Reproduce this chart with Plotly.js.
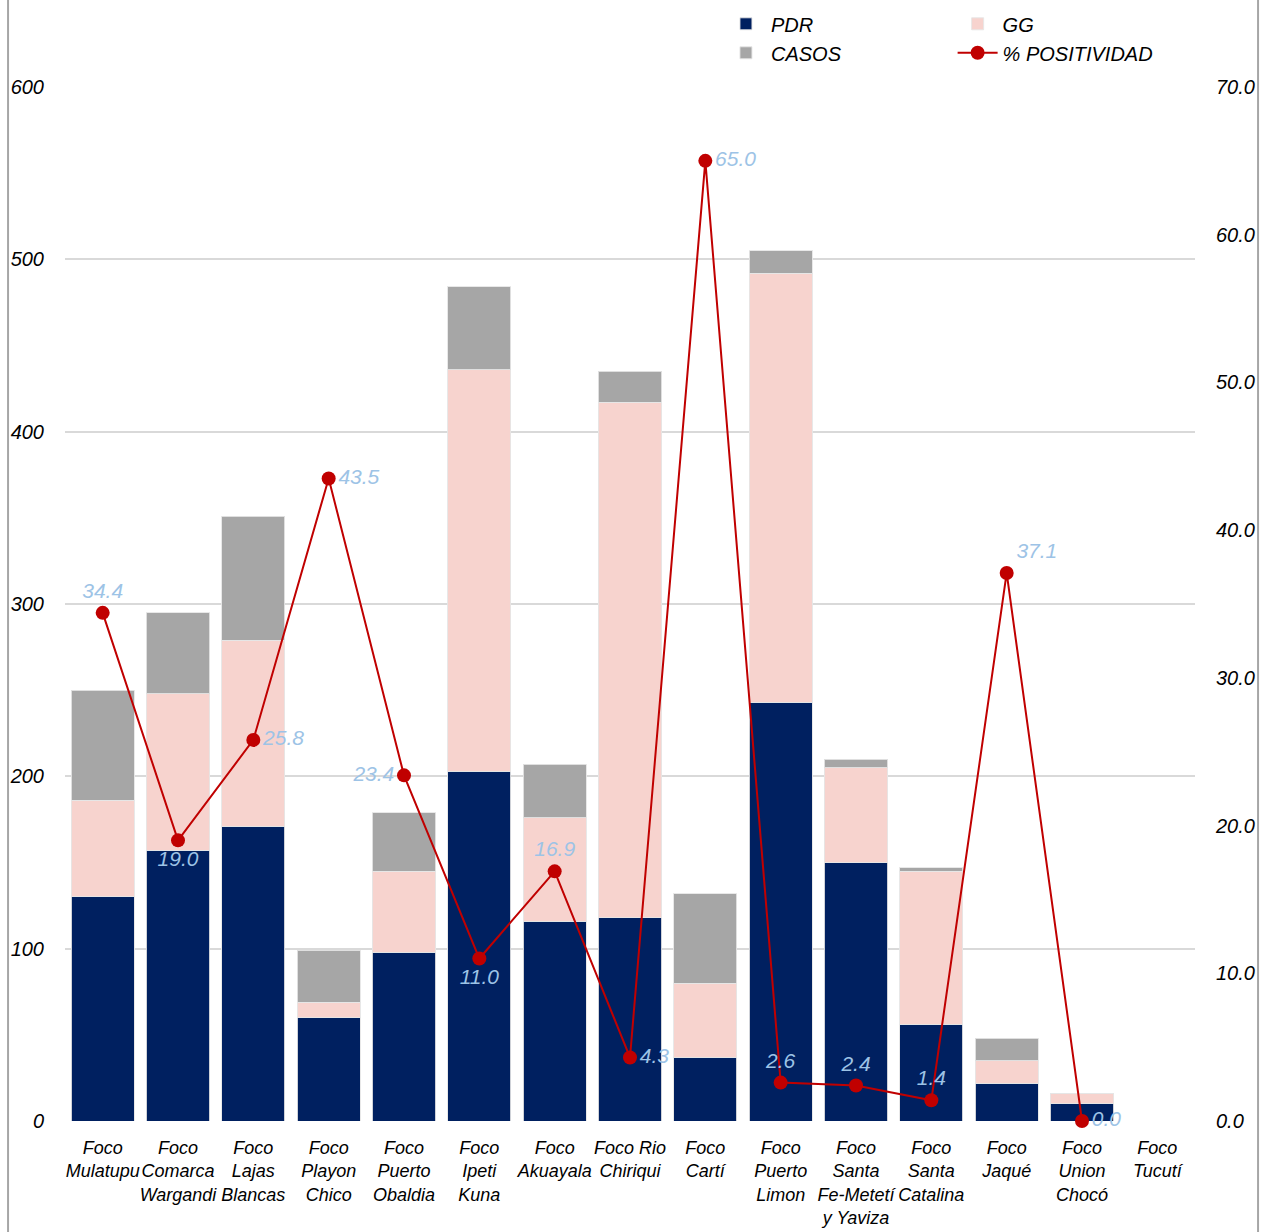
<!DOCTYPE html>
<html><head><meta charset="utf-8">
<script src="https://cdn.plot.ly/plotly-3.0.1.min.js"></script>
<style>html,body{margin:0;padding:0;background:#fff;}#chart{width:1261px;height:1232px;}</style>
</head><body><div id="chart"></div>
<script>
const categories = ["Foco<br>Mulatupu","Foco<br>Comarca<br>Wargandi","Foco<br>Lajas<br>Blancas","Foco<br>Playon<br>Chico","Foco<br>Puerto<br>Obaldia","Foco<br>Ipeti<br>Kuna","Foco<br>Akuayala","Foco Rio<br>Chiriqui","Foco<br>Cartí","Foco<br>Puerto<br>Limon","Foco<br>Santa<br>Fe-Metetí<br>y Yaviza","Foco<br>Santa<br>Catalina","Foco<br>Jaqué","Foco<br>Union<br>Chocó","Foco<br>Tucutí"];
const pdr   = [130, 157, 171, 60, 98, 203, 116, 118, 37, 243, 150, 56, 22, 10, 0];
const gg    = [56, 91, 108, 9, 47, 233, 60, 299, 43, 249, 55, 89, 13, 6, 0];
const casos = [64, 47, 72, 30, 34, 48, 31, 18, 52, 13, 5, 2, 13, 0, 0];
const positividad = [34.4, 19.0, 25.8, 43.5, 23.4, 11.0, 16.9, 4.3, 65.0, 2.6, 2.4, 1.4, 37.1, 0.0, null];
const labelPos = ['top center','bottom center','middle right','middle right','middle left','bottom center','top center','middle right','middle right','top center','top center','top center','top right','middle right','top center'];

const FONT = '"Liberation Sans", Arial, sans-serif';
const barLine = {color:'rgba(230,230,230,0.9)', width:1};
const traces = [
  {type:'bar', name:'PDR', x:categories, y:pdr, marker:{color:'#002060', line:barLine}, legend:'legend', hoverinfo:'skip'},
  {type:'bar', name:'GG', x:categories, y:gg, marker:{color:'#F7D3CE', line:barLine}, legend:'legend2', hoverinfo:'skip'},
  {type:'bar', name:'CASOS', x:categories, y:casos, marker:{color:'#A6A6A6', line:barLine}, legend:'legend', hoverinfo:'skip'},
  {type:'scatter', mode:'lines+markers+text', name:'% POSITIVIDAD', x:categories, y:positividad, yaxis:'y2',
   line:{color:'#C00000', width:2}, marker:{color:'#C00000', size:14},
   text:positividad.map(v => v==null ? '' : v.toFixed(1)), textposition:labelPos,
   textfont:{family:FONT, size:21, color:'#9DC3E6', style:'italic'}, legend:'legend2', cliponaxis:false, connectgaps:false}
];

const legendFont = {family:FONT, size:20, color:'#000', style:'italic'};
const layout = {
  width:1261, height:1232,
  margin:{l:65, r:66, t:87, b:111},
  paper_bgcolor:'#fff', plot_bgcolor:'#fff',
  barmode:'stack', bargap:0.16,
  font:{family:FONT, size:18, color:'#000', style:'italic'},
  xaxis:{type:'category', range:[-0.5, 14.5], showgrid:false, zeroline:false, showline:false, ticks:'', tickangle:0, automargin:false,
    ticklabelstandoff:14, tickfont:{family:FONT, size:18, color:'#000', style:'italic'}},
  yaxis:{range:[0,600], tickvals:[0,100,200,300,400,500,600], showgrid:true, gridcolor:'#D9D9D9', gridwidth:2,
    zeroline:false, showline:false, ticks:'', ticklabelstandoff:20, automargin:false,
    tickfont:{family:FONT, size:20, color:'#000', style:'italic'}},
  yaxis2:{range:[0,70], overlaying:'y', side:'right', tickvals:[0,10,20,30,40,50,60,70], tickformat:'.1f',
    showgrid:false, zeroline:false, showline:false, ticks:'', ticklabelstandoff:20, automargin:false,
    tickfont:{family:FONT, size:20, color:'#000', style:'italic'}},
  legend:{x:0.5805, y:0.9965, xref:'paper', yref:'container', xanchor:'left', yanchor:'top', orientation:'v', bgcolor:'rgba(0,0,0,0)', traceorder:'normal',
    font:legendFont, tracegroupgap:0, itemwidth:40},
  legend2:{x:0.7855, y:0.9965, xref:'paper', yref:'container', xanchor:'left', yanchor:'top', orientation:'v', bgcolor:'rgba(0,0,0,0)', traceorder:'normal',
    font:legendFont, tracegroupgap:0, itemwidth:40},
  showlegend:true,
  shapes:[
    {type:'line', xref:'paper', yref:'paper', x0:-0.0504, x1:-0.0504, y0:-0.2, y1:1.2, line:{color:'#A6A6A6', width:2}},
    {type:'line', xref:'paper', yref:'paper', x0:1.0558, x1:1.0558, y0:-0.2, y1:1.2, line:{color:'#A6A6A6', width:2}}
  ]
};
Plotly.newPlot('chart', traces, layout, {displayModeBar:false, staticPlot:true});
</script></body></html>
